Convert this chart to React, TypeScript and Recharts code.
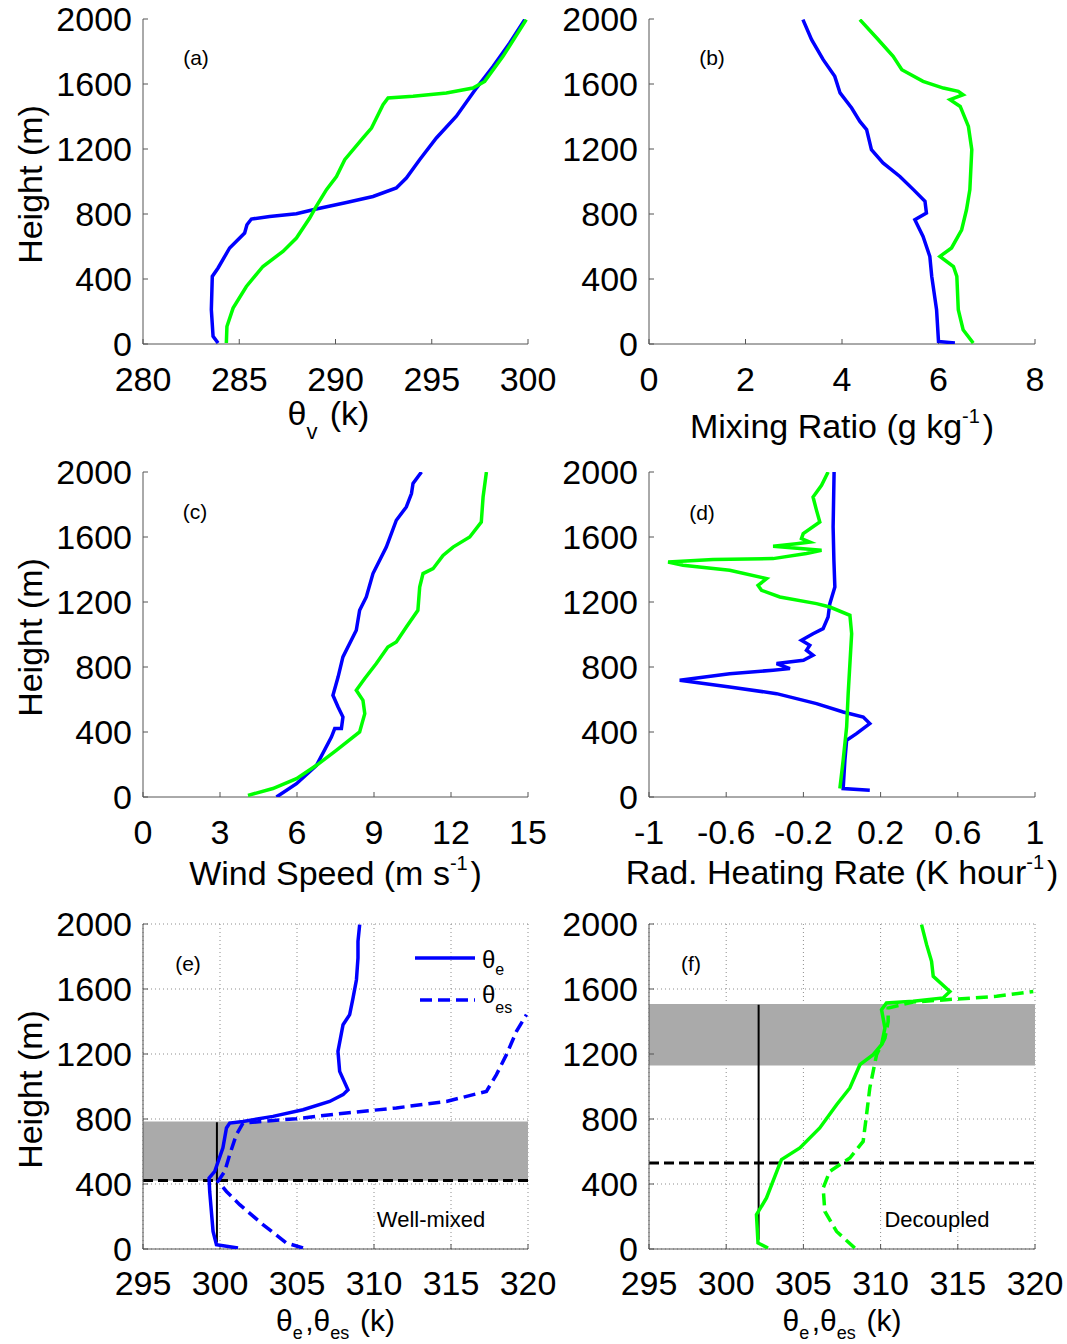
import React from "react";
import { ScatterChart, Scatter, XAxis, YAxis, CartesianGrid, ReferenceArea, ReferenceLine } from "recharts";

const BLUE = "#0000ff";
const GREEN = "#00ff00";
const AX = "#555";
const FONT = '"Liberation Sans", Arial, Helvetica, sans-serif';

type Pair = [number, number]; // [x value, height m]

const heightTicks = [0, 400, 800, 1200, 1600, 2000];
const thvTicks = [280, 285, 290, 295, 300];
const mixTicks = [0, 2, 4, 6, 8];
const windTicks = [0, 3, 6, 9, 12, 15];
const radTicks = [-1, -0.6, -0.2, 0.2, 0.6, 1];
const theTicks = [295, 300, 305, 310, 315, 320];

// (a) virtual potential temperature
const thvBlue: Pair[] = [[283.9, 6], [283.64, 47], [283.55, 211], [283.6, 416], [283.9, 468], [284.5, 591], [285.28, 683], [285.4, 734], [285.63, 769], [286.58, 785], [287.97, 802], [289.0, 831], [290.57, 871], [291.95, 908], [293.16, 960], [293.68, 1021], [294.37, 1134], [295.24, 1268], [296.28, 1402], [297.32, 1575], [298.18, 1708], [299.05, 1852], [299.83, 1996]];
const thvGreen: Pair[] = [[284.33, 6], [284.36, 108], [284.68, 221], [285.37, 354], [286.23, 477], [287.27, 570], [287.97, 652], [288.66, 775], [289.0, 847], [289.53, 950], [290.05, 1031], [290.48, 1134], [291.43, 1268], [291.87, 1329], [292.47, 1473], [292.73, 1514], [294.03, 1524], [295.76, 1545], [297.14, 1575], [297.75, 1616], [298.7, 1770], [299.91, 1996]];

// (b) mixing ratio
const mixBlue: Pair[] = [[6.34, 6], [6.0, 16], [5.96, 211], [5.86, 416], [5.82, 539], [5.68, 662], [5.51, 765], [5.75, 806], [5.72, 878], [5.48, 950], [5.2, 1031], [4.85, 1114], [4.61, 1196], [4.51, 1319], [4.37, 1370], [4.2, 1452], [3.96, 1545], [3.85, 1647], [3.61, 1750], [3.37, 1873], [3.19, 1996]];
const mixGreen: Pair[] = [[6.72, 6], [6.51, 88], [6.41, 211], [6.38, 416], [6.31, 477], [6.03, 539], [6.27, 591], [6.48, 703], [6.58, 826], [6.65, 950], [6.69, 1196], [6.62, 1339], [6.45, 1462], [6.24, 1504], [6.51, 1534], [6.41, 1555], [6.1, 1575], [5.68, 1616], [5.24, 1688], [5.06, 1770], [4.72, 1883], [4.37, 1996]];

// (c) wind speed
const windBlue: Pair[] = [[5.2, 0], [5.98, 82], [6.76, 195], [7.34, 369], [7.47, 421], [7.73, 421], [7.79, 492], [7.6, 554], [7.4, 626], [7.6, 738], [7.79, 862], [8.31, 1026], [8.44, 1149], [8.7, 1231], [8.96, 1375], [9.48, 1538], [9.87, 1703], [10.26, 1785], [10.46, 1867], [10.52, 1929], [10.85, 2000]];
const windGreen: Pair[] = [[4.09, 10], [5.06, 52], [5.98, 113], [6.76, 195], [7.53, 287], [8.44, 400], [8.64, 513], [8.57, 595], [8.31, 657], [8.64, 729], [9.09, 821], [9.54, 923], [9.87, 954], [10.26, 1046], [10.71, 1149], [10.78, 1292], [10.91, 1375], [11.3, 1405], [11.69, 1487], [12.08, 1538], [12.73, 1600], [13.18, 1692], [13.25, 1846], [13.38, 2000]];

// (d) radiative heating rate
const radBlue: Pair[] = [[0.144, 41], [0.006, 52], [0.015, 226], [0.024, 349], [0.075, 390], [0.144, 452], [0.11, 492], [0.006, 523], [-0.132, 575], [-0.339, 636], [-0.582, 677], [-0.841, 718], [-0.582, 759], [-0.357, 780], [-0.27, 790], [-0.339, 821], [-0.2, 841], [-0.15, 872], [-0.184, 903], [-0.167, 934], [-0.21, 964], [-0.15, 1005], [-0.098, 1036], [-0.072, 1108], [-0.063, 1190], [-0.037, 1292], [-0.042, 1457], [-0.046, 1662], [-0.041, 2000]];
const radGreen: Pair[] = [[-0.011, 52], [0.006, 226], [0.024, 431], [0.032, 636], [0.05, 1005], [0.041, 1118], [-0.063, 1169], [-0.132, 1190], [-0.322, 1231], [-0.417, 1272], [-0.435, 1302], [-0.391, 1344], [-0.582, 1395], [-0.824, 1426], [-0.901, 1446], [-0.668, 1461], [-0.357, 1467], [-0.184, 1498], [-0.106, 1518], [-0.201, 1528], [-0.357, 1543], [-0.236, 1559], [-0.167, 1569], [-0.21, 1590], [-0.201, 1621], [-0.115, 1692], [-0.132, 1764], [-0.15, 1846], [-0.106, 1918], [-0.072, 2000]];

// (e) well-mixed case, theta_e and theta_es
const theBlue: Pair[] = [[301.17, 6], [299.77, 26], [299.55, 108], [299.33, 354], [299.29, 437], [299.66, 478], [300.19, 622], [300.42, 745], [300.63, 775], [301.49, 785], [303.44, 816], [305.39, 857], [307.12, 908], [307.99, 950], [308.31, 980], [307.77, 1093], [307.66, 1216], [307.99, 1380], [308.42, 1442], [308.64, 1545], [308.86, 1657], [308.96, 1791], [308.96, 1893], [309.07, 1996]];
const thesBlue: Pair[] = [[305.39, 6], [304.31, 37], [302.79, 150], [301.28, 273], [300.42, 354], [299.87, 416], [300.31, 478], [300.63, 580], [301.06, 703], [301.49, 775], [304.96, 802], [308.2, 837], [311.45, 868], [314.7, 908], [317.3, 970], [317.95, 1073], [318.6, 1196], [319.25, 1339], [319.9, 1442]];
const mixedBand = [420, 785];
const mixedTop = 422;
const mixedCol = { x: 299.8, from: 40, to: 780 };

// (f) decoupled case
const theGreen: Pair[] = [[302.71, 6], [302.06, 37], [301.96, 211], [302.61, 314], [303.36, 498], [303.58, 550], [304.77, 622], [306.06, 745], [307.15, 888], [308.01, 991], [308.66, 1134], [309.52, 1196], [310.06, 1257], [310.28, 1360], [310.06, 1473], [310.38, 1514], [312.11, 1524], [314.05, 1545], [314.49, 1585], [313.41, 1678], [313.3, 1770], [312.98, 1873], [312.65, 1996]];
const thesGreen: Pair[] = [[308.33, 6], [307.15, 108], [306.39, 231], [306.28, 375], [306.71, 478], [308.01, 560], [308.87, 662], [309.09, 826], [309.3, 991], [309.52, 1093], [309.74, 1196], [310.28, 1298], [310.49, 1400], [310.49, 1483], [312.11, 1520], [314.27, 1534], [317.51, 1555], [319.89, 1585]];
const decBand = [1130, 1508];
const decTop = 529;
const decCol = { x: 302.1, from: 57, to: 1503 };

const toPts = (arr: Pair[]) => arr.map(([v, h]) => ({ v, h }));

const PLOT_H = 325;
const TOP_M = 18;
const X_H = 125;

function YTitle({ ax, ay }: { ax: number; ay: number }) {
  return (
    <text x={ax} y={ay} transform={`rotate(-90 ${ax} ${ay})`} textAnchor="middle" fontSize={34} fill="#000">
      Height (m)
    </text>
  );
}

function XTitle({ ax, ay, parts, size }: { ax: number; ay: number; parts: React.ReactNode; size: number }) {
  return (
    <text x={ax} y={ay} textAnchor="middle" fontSize={size} fill="#000">
      {parts}
    </text>
  );
}

type Series = { data: Pair[]; color: string; dashed?: boolean };

function Panel(props: {
  left: number; top: number; yW: number; plotW: number; rightM: number;
  domain: [number, number]; ticks: number[]; series: Series[];
  yTitle?: boolean; xTitle: React.ReactNode; titleDx?: number; titleDy: number; titleSize?: number; tickGap?: number;
  grid?: boolean; children?: React.ReactNode;
}) {
  const { left, top, yW, plotW, rightM, domain, ticks, series, yTitle, xTitle, titleDx = 0, titleDy, titleSize = 34, tickGap = 28, grid, children } = props;
  const width = yW + plotW + rightM;
  const height = TOP_M + PLOT_H + X_H;
  const tickStyle = { fill: "#000", fontSize: 34 };
  return (
    <div style={{ position: "absolute", left, top, width, height }}>
      <ScatterChart width={width} height={height} margin={{ top: TOP_M, right: rightM, bottom: 0, left: 0 }}>
        {grid && <CartesianGrid stroke="#8c8c8c" strokeDasharray="1 3" />}
        <XAxis
          type="number" dataKey="v" domain={domain} ticks={ticks} interval={0} allowDataOverflow
          height={X_H} axisLine={{ stroke: AX }} tickLine={{ stroke: AX }} tickSize={-5} tickMargin={tickGap} tick={tickStyle}
          label={<XTitle ax={yW + plotW / 2 + titleDx} ay={TOP_M + PLOT_H + titleDy} parts={xTitle} size={titleSize} />}
        />
        <XAxis xAxisId="t" orientation="top" type="number" domain={domain} ticks={ticks} interval={0} height={0}
          axisLine={{ stroke: AX }} tickLine={{ stroke: AX }} tickSize={-5} tick={false} />
        <YAxis
          type="number" dataKey="h" domain={[0, 2000]} ticks={heightTicks} interval={0} allowDataOverflow
          width={yW} axisLine={{ stroke: AX }} tickLine={{ stroke: AX }} tickSize={-5} tickMargin={16} tick={tickStyle}
          label={yTitle ? <YTitle ax={42} ay={TOP_M + PLOT_H / 2 + 3} /> : undefined}
        />
        <YAxis yAxisId="r" orientation="right" type="number" domain={[0, 2000]} ticks={heightTicks} interval={0} width={0}
          axisLine={{ stroke: AX }} tickLine={{ stroke: AX }} tickSize={-5} tick={false} />
        {children}
        {series.map((s, i) => (
          <Scatter
            key={i}
            data={toPts(s.data)}
            fill={s.color}
            shape={() => <g />}
            line={{ stroke: s.color, strokeWidth: 3.5, strokeDasharray: s.dashed ? "12 6" : undefined }}
            lineType="joint"
            isAnimationActive={false}
          />
        ))}
      </ScatterChart>
    </div>
  );
}

const sub = (t: string, size = 22, shift = 14) => (
  <>
    <tspan fontSize={size} dy={shift}>{t}</tspan>
    <tspan dy={-shift}>{"\u200a"}</tspan>
  </>
);
const sup = (t: string, size = 20, shift = 15) => (
  <>
    <tspan fontSize={size} dy={-shift}>{t}</tspan>
    <tspan dy={shift}>{"\u200a"}</tspan>
  </>
);

const letter = (t: string, x: number, y: number) => (
  <div style={{ position: "absolute", left: x, top: y, transform: "translate(-50%, -50%)", fontSize: 21, lineHeight: "21px" }}>{t}</div>
);

export default function App() {
  const L = { yW: 143, plotW: 385, rightM: 42, left: 0 };
  const R = { yW: 110, plotW: 386, rightM: 32, left: 539 };
  const rows = [1, 454, 906];
  const thetaTitle = <>θ{sub("e", 18, 8)},θ{sub("es", 18, 8)} (k)</>;
  return (
    <div style={{ position: "absolute", left: 0, top: 0, width: 1067, height: 1344, background: "#fff", fontFamily: FONT, color: "#000", overflow: "hidden" }}>
      <Panel {...L} top={rows[0]} domain={[280, 300]} ticks={thvTicks} yTitle titleDx={-7} titleDy={81}
        series={[{ data: thvBlue, color: BLUE }, { data: thvGreen, color: GREEN }]}
        xTitle={<>θ{sub("v")} (k)</>} />
      <Panel {...R} top={rows[0]} domain={[0, 8]} ticks={mixTicks} titleDy={94}
        series={[{ data: mixBlue, color: BLUE }, { data: mixGreen, color: GREEN }]}
        xTitle={<>Mixing Ratio (g kg{sup("-1")})</>} />
      <Panel {...L} top={rows[1]} domain={[0, 15]} ticks={windTicks} yTitle titleDy={88}
        series={[{ data: windBlue, color: BLUE }, { data: windGreen, color: GREEN }]}
        xTitle={<>Wind Speed (m s{sup("-1")})</>} />
      <Panel {...R} top={rows[1]} domain={[-1, 1]} ticks={radTicks} titleDy={87}
        series={[{ data: radBlue, color: BLUE }, { data: radGreen, color: GREEN }]}
        xTitle={<>Rad. Heating Rate (K hour{sup("-1")})</>} />
      <Panel {...L} top={rows[2]} domain={[295, 320]} ticks={theTicks} yTitle grid titleDy={82} titleSize={30} tickGap={27}
        series={[{ data: theBlue, color: BLUE }, { data: thesBlue, color: BLUE, dashed: true }]}
        xTitle={thetaTitle}>
        <ReferenceArea y1={mixedBand[0]} y2={mixedBand[1]} fill="#aaaaaa" fillOpacity={1} stroke="none" />
        <ReferenceLine y={mixedTop} stroke="#000" strokeWidth={3} strokeDasharray="10 5" />
        <ReferenceLine segment={[{ x: mixedCol.x, y: mixedCol.from }, { x: mixedCol.x, y: mixedCol.to }]} stroke="#000" strokeWidth={2} />
      </Panel>
      <Panel {...R} top={rows[2]} domain={[295, 320]} ticks={theTicks} grid titleDy={82} titleSize={30} tickGap={27}
        series={[{ data: theGreen, color: GREEN }, { data: thesGreen, color: GREEN, dashed: true }]}
        xTitle={thetaTitle}>
        <ReferenceArea y1={decBand[0]} y2={decBand[1]} fill="#aaaaaa" fillOpacity={1} stroke="none" />
        <ReferenceLine y={decTop} stroke="#000" strokeWidth={3} strokeDasharray="10 5" />
        <ReferenceLine segment={[{ x: decCol.x, y: decCol.from }, { x: decCol.x, y: decCol.to }]} stroke="#000" strokeWidth={2} />
      </Panel>

      {letter("(a)", 196, 57)}
      {letter("(b)", 712, 57)}
      {letter("(c)", 195, 511)}
      {letter("(d)", 702, 512)}
      {letter("(e)", 188, 963)}
      {letter("(f)", 691, 963)}

      <svg style={{ position: "absolute", left: 410, top: 940 }} width={110} height={85}>
        <line x1={5} x2={65} y1={18} y2={18} stroke={BLUE} strokeWidth={3.5} />
        <text x={72} y={28} fontSize={24} fill="#000">θ<tspan fontSize={16} dy={7}>e</tspan></text>
        <line x1={10} x2={65} y1={60} y2={60} stroke={BLUE} strokeWidth={3.5} strokeDasharray="12 6" />
        <text x={72} y={63} fontSize={24} fill="#000">θ<tspan fontSize={16} dy={10}>es</tspan></text>
      </svg>
      <div style={{ position: "absolute", left: 431, top: 1220, transform: "translate(-50%, -50%)", fontSize: 22, whiteSpace: "nowrap" }}>Well-mixed</div>
      <div style={{ position: "absolute", left: 937, top: 1220, transform: "translate(-50%, -50%)", fontSize: 22, whiteSpace: "nowrap" }}>Decoupled</div>
    </div>
  );
}
